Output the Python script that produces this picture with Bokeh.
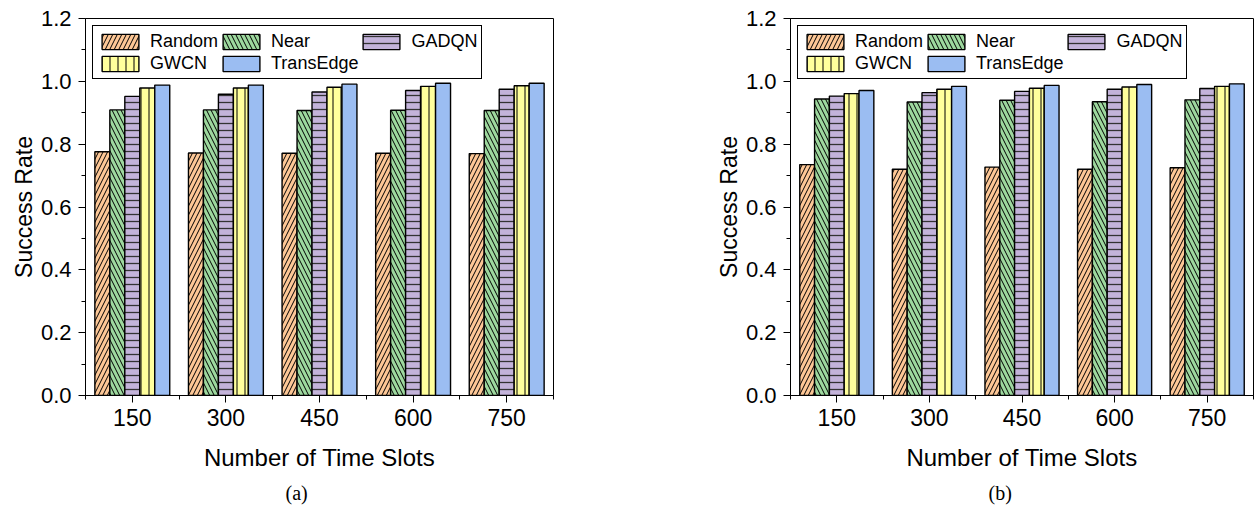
from bokeh.plotting import figure
from bokeh.models import (FixedTicker, Legend, LegendItem, Title, Range1d,
                          ColumnDataSource, PrintfTickFormatter)
from bokeh.transform import dodge
from bokeh.layouts import row
from bokeh.embed import file_html
from bokeh.resources import INLINE

slots = ["150", "300", "450", "600", "750"]
methods = ["Random", "Near", "GADQN", "GWCN", "TransEdge"]

a_random = [0.776, 0.772, 0.771, 0.771, 0.770]
a_near = [0.909, 0.909, 0.907, 0.908, 0.907]
a_gadqn = [0.952, 0.959, 0.966, 0.971, 0.975]
a_gwcn = [0.979, 0.979, 0.981, 0.984, 0.986]
a_transedge = [0.988, 0.988, 0.991, 0.994, 0.994]

b_random = [0.735, 0.720, 0.727, 0.720, 0.725]
b_near = [0.944, 0.934, 0.940, 0.935, 0.941]
b_gadqn = [0.953, 0.964, 0.968, 0.975, 0.977]
b_gwcn = [0.961, 0.975, 0.978, 0.982, 0.984]
b_transedge = [0.971, 0.984, 0.987, 0.990, 0.992]

y_ticks = [0.0, 0.2, 0.4, 0.6, 0.8, 1.0, 1.2]
y_minor = [0.1, 0.3, 0.5, 0.7, 0.9, 1.1]

colors = ["#FDC796", "#9DD89E", "#C3B3DA", "#FFFF9C", "#9BBDF2"]
hatches = ["/", "\\", "-", "|", None]
hatch_scales = [9, 9, 7, 8, 8]
hatch_colors = ["black", "black", "#333333", "black", "black"]
hatch_weights = [1, 1, 1.3, 1, 1]

FONT = "Liberation Sans"


def make_panel(series, caption, width, left, right, cap_offset):
    p = figure(width=width, height=516, output_backend="svg", toolbar_location=None,
               x_range=Range1d(0.5, 5.5), y_range=Range1d(0, 1.2),
               min_border_left=left, min_border_right=right,
               min_border_top=18, min_border_bottom=121)
    p.xgrid.visible = False
    p.ygrid.visible = False
    p.outline_line_color = "black"
    p.outline_line_width = 1
    p.outline_line_alpha = 1

    xs = list(range(1, len(slots) + 1))
    offsets = [-0.32, -0.16, 0.0, 0.16, 0.32]
    items = []
    for i, m in enumerate(methods):
        src = ColumnDataSource(dict(x=xs, top=series[i]))
        kw = dict(x=dodge("x", offsets[i], range=p.x_range), top="top", width=0.16,
                  source=src, fill_color=colors[i], line_color="black", line_width=1.4)
        if hatches[i]:
            kw.update(hatch_pattern=hatches[i], hatch_color=hatch_colors[i],
                      hatch_scale=hatch_scales[i], hatch_weight=hatch_weights[i])
        r = p.vbar(**kw)
        items.append(LegendItem(label=m, renderers=[r]))

    leg = Legend(items=items, location="top_left", ncols=3, orientation="horizontal",
                 glyph_width=46, glyph_height=19, label_height=22,
                 label_text_font=FONT, label_text_font_size="18px",
                 label_text_color="black",
                 spacing=0, padding=4, margin=7, label_standoff=7,
                 border_line_color="black", border_line_width=1, border_line_alpha=1,
                 background_fill_alpha=1)
    p.add_layout(leg)

    p.xaxis.ticker = FixedTicker(ticks=xs, minor_ticks=[x - 0.5 for x in xs] + [xs[-1] + 0.5])
    p.xaxis.major_label_overrides = {x: s for x, s in zip(xs, slots)}
    p.yaxis.ticker = FixedTicker(ticks=y_ticks, minor_ticks=y_minor)
    p.yaxis.formatter = PrintfTickFormatter(format="%.1f")

    for ax in (p.xaxis[0], p.yaxis[0]):
        ax.axis_line_color = "black"
        ax.axis_line_width = 1
        ax.major_tick_line_color = "black"
        ax.minor_tick_line_color = "black"
        ax.major_tick_in = 0
        ax.major_tick_out = 7
        ax.minor_tick_in = 0
        ax.minor_tick_out = 4
        ax.major_label_text_font = FONT
        ax.major_label_text_color = "black"
        ax.axis_label_text_font = FONT
        ax.axis_label_text_font_style = "normal"
        ax.axis_label_text_color = "black"

    p.xaxis.axis_label = "Number of Time Slots"
    p.yaxis.axis_label = "Success Rate"
    p.xaxis.major_label_text_font_size = "23px"
    p.yaxis.major_label_text_font_size = "22px"
    p.xaxis.axis_label_text_font_size = "24px"
    p.yaxis.axis_label_text_font_size = "23px"
    p.xaxis.major_label_standoff = 6
    p.yaxis.major_label_standoff = 7
    p.xaxis.axis_label_standoff = 15
    p.yaxis.axis_label_standoff = 1

    t = Title(text=caption, align="left", offset=cap_offset,
              text_font="Liberation Serif", text_font_size="20px",
              text_font_style="normal", text_color="black", standoff=12)
    p.add_layout(t, "below")
    return p


pa = make_panel([a_random, a_near, a_gadqn, a_gwcn, a_transedge], "(a)", 620, 85, 67, 200)
pb = make_panel([b_random, b_near, b_gadqn, b_gwcn, b_transedge], "(b)", 636, 170, 3, 198)

layout = row(pa, pb)
open("out.html", "w").write(file_html(layout, INLINE))
